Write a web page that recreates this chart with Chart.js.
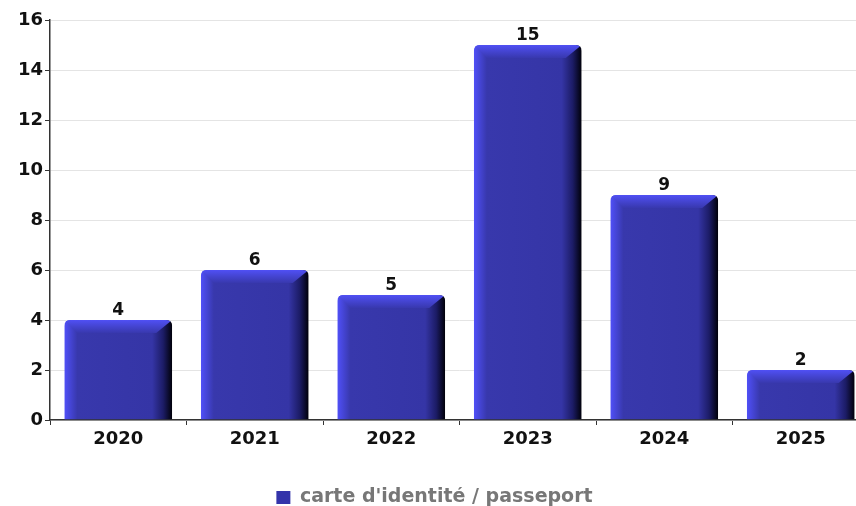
<!DOCTYPE html>
<html>
<head>
<meta charset="utf-8">
<script src="https://cdn.jsdelivr.net/npm/chart.js@4.4.1/dist/chart.umd.min.js"></script>
<style>
    html, body { margin: 0; padding: 0; background: #fff; overflow: hidden; }
    #wrap { width: 856px; height: 506px; overflow: hidden; }
</style>
</head>
<body>
<div id="wrap"><canvas id="chart" width="870" height="506"></canvas></div>
<script>
// --- Data ---
const years = ['2020', '2021', '2022', '2023', '2024', '2025'];
const counts = [4, 6, 5, 15, 9, 2];
const seriesName = "carte d'identité / passeport";
const yMax = 16;
const yStep = 2;

const FONT = "'DejaVu Sans', sans-serif";

// draws the bars as bevelled 3D blocks, plus the value on top
const bar3d = {
    id: 'bar3d',
    afterDatasetsDraw(chart) {
        const ctx = chart.ctx;
        const meta = chart.getDatasetMeta(0);
        meta.data.forEach((bar, i) => {
            const p = bar.getProps(['x', 'y', 'base', 'width'], true);
            const L = p.x - p.width / 2, R = p.x + p.width / 2;
            const T = p.y, B = p.base, w = R - L;
            const r = 6;

            ctx.save();
            ctx.beginPath();
            ctx.moveTo(L, B);
            ctx.lineTo(L, T + r);
            ctx.quadraticCurveTo(L, T, L + r, T);
            ctx.lineTo(R - r, T);
            ctx.quadraticCurveTo(R, T, R, T + r);
            ctx.lineTo(R, B);
            ctx.closePath();
            ctx.clip();

            // body: light left edge, flat face, dark right side
            const g = ctx.createLinearGradient(L, 0, R, 0);
            g.addColorStop(0, '#5050f8');
            g.addColorStop(13 / w, '#3838ac');
            g.addColorStop((w - 20) / w, '#3535a6');
            g.addColorStop((w - 9) / w, '#1c1c66');
            g.addColorStop(1, '#000008');
            ctx.fillStyle = g;
            ctx.fillRect(L, T, w, B - T);

            // top bevel
            const h = Math.min(13, (B - T) / 2);
            const tg = ctx.createLinearGradient(0, T, 0, T + h);
            tg.addColorStop(0, '#5050f4');
            tg.addColorStop(0.5, '#4444d0');
            tg.addColorStop(1, '#3838ae');
            ctx.fillStyle = tg;
            ctx.beginPath();
            ctx.moveTo(L, T);
            ctx.lineTo(R, T);
            ctx.lineTo(R - 16, T + h);
            ctx.lineTo(L + 13, T + h);
            ctx.closePath();
            ctx.fill();
            ctx.restore();

            // value label
            ctx.save();
            ctx.fillStyle = '#111';
            ctx.font = 'bold 17px ' + FONT;
            ctx.textAlign = 'center';
            ctx.textBaseline = 'alphabetic';
            ctx.fillText(counts[i], p.x, T - 5);
            ctx.restore();
        });
    }
};

new Chart(document.getElementById('chart'), {
    type: 'bar',
    data: {
        labels: years,
        datasets: [{
            label: seriesName,
            data: counts,
            backgroundColor: 'rgba(0,0,0,0)',
            categoryPercentage: 1,
            barPercentage: 0.79
        }]
    },
    options: {
        responsive: false,
        animation: false,
        layout: { padding: { top: 20, right: 1, left: 0, bottom: 0 } },
        plugins: {
            tooltip: { enabled: false },
            legend: {
                position: 'bottom',
                maxHeight: 19,
                labels: {
                    color: '#777',
                    font: { family: FONT, size: 19, weight: 'bold' },
                    boxWidth: 14,
                    boxHeight: 13,
                    padding: 1,
                    generateLabels: (chart) => [{
                        text: seriesName,
                        fillStyle: '#3434aa',
                        strokeStyle: '#3434aa',
                        lineWidth: 0,
                        fontColor: '#777',
                        datasetIndex: 0
                    }]
                }
            }
        },
        scales: {
            x: {
                border: { color: '#333', width: 1.5 },
                grid: {
                    drawOnChartArea: false,
                    tickLength: 5,
                    tickColor: '#333',
                    offset: true
                },
                ticks: {
                    color: '#111',
                    font: { family: FONT, size: 18, weight: 'bold' },
                    padding: 4
                },
                afterFit: (scale) => { scale.height = 67; }
            },
            y: {
                min: 0,
                max: yMax,
                border: { color: '#333', width: 1.5 },
                grid: {
                    color: '#e4e4e4',
                    tickColor: '#333',
                    tickLength: 5
                },
                ticks: {
                    stepSize: yStep,
                    color: '#111',
                    font: { family: FONT, size: 18, weight: 'bold' },
                    padding: 2
                },
                afterFit: (scale) => { scale.width = 50; }
            }
        }
    },
    plugins: [bar3d]
});
</script>
</body>
</html>
